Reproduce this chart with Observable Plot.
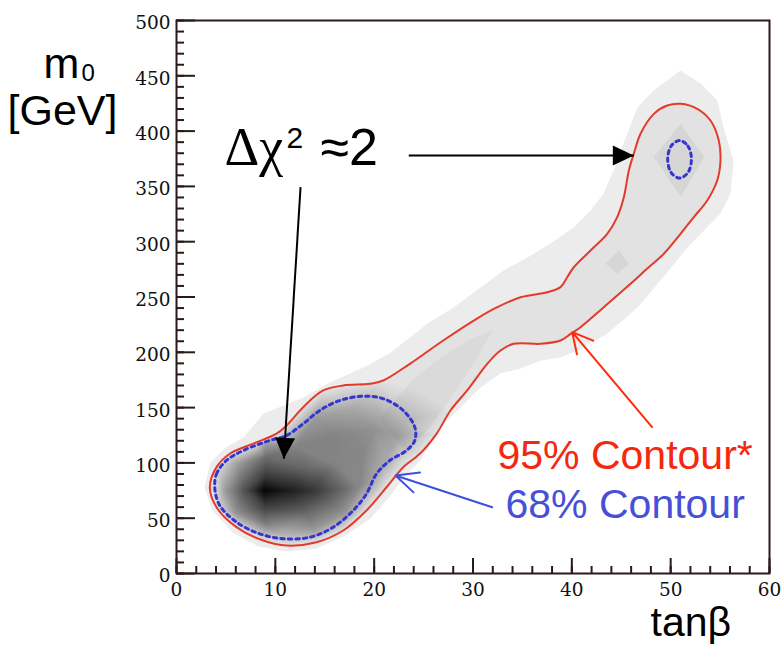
<!DOCTYPE html>
<html><head><meta charset="utf-8">
<script src="https://cdn.jsdelivr.net/npm/d3@7"></script>
<script src="https://cdn.jsdelivr.net/npm/@observablehq/plot@0.6"></script>
<style>
html,body{margin:0;padding:0;background:#fff;}
#chart{width:782px;height:646px;}
</style></head><body><div id="chart"></div>
<script>
// ---------- tick values ----------
const xTicks = [0, 10, 20, 30, 40, 50, 60];
const yTicks = [0, 50, 100, 150, 200, 250, 300, 350, 400, 450, 500];
const xMinorTicks = d3.range(0, 61, 2);
const yMinorTicks = d3.range(0, 501, 10);

// ---------- 95% contour (tanβ, m0) ----------
const c95X = [3.37,4.05,5.39,7.76,10.12,11.13,12.82,14.84,16.87,19.56,20.92,23.61,26.99,30.36,32.45,34.81,37.51,38.85,39.53,40.20,41.89,43.58,44.59,45.26,45.77,46.27,46.95,48.30,49.65,51.00,52.69,54.03,54.87,55.04,54.71,53.70,52.34,51.00,49.31,47.6,45.94,43.24,40.88,39.87,38.86,36.83,34.13,32.78,31.44,29.41,27.72,26.31,24.62,22.94,21.25,19.22,16.87,14.17,11.13,8.77,6.07,4.05];
const c95Y = [78.0,96.2,108.3,117.4,126.4,133.8,150.4,165.5,170.0,171.5,174.5,189.6,210.7,230.3,240.8,249.8,254.3,258.9,267.9,276.9,292.0,307.1,322.2,340.2,364.4,379.5,397.6,415.6,423.1,424.7,420.2,409.6,391.5,373.4,355.3,337.3,322.2,307.1,289.1,275.5,261.9,240.8,222.7,216.7,210.7,207.7,207.7,201.6,189.6,165.5,147.4,126.3,108.2,96.1,78.0,57.0,38.9,28.3,25.3,29.8,41.9,59.9];

// ---------- 68% contours ----------
const c68X = [3.88,4.05,5.06,6.75,9.44,11.13,12.82,14.50,16.52,18.89,20.92,22.94,24.11,24.11,23.27,21.58,20.24,19.22,17.88,15.86,13.49,10.80,8.43,6.07,4.38];
const c68Y = [76.6,90.1,102.2,111.2,120.3,124.8,135.4,147.4,156.4,160.3,158.0,147.4,132.3,120.3,111.2,102.2,90.1,72.1,57.0,41.9,32.8,31.4,35.9,46.4,61.5];
const c68TopX = [50.9,51.75,52.1,51.75,50.9,50.05,49.7,50.05];
const c68TopY = [391.5,386.5,374.5,362.5,357.5,362.5,374.5,386.5];

// ---------- shaded likelihood levels ----------
const bandX = [2.83,3.44,4.96,6.78,8.80,12.85,15.48,18.92,21.55,25.40,28.03,30.76,33.09,35.52,37.84,40.17,41.89,43.21,44.22,45.13,46.65,48.26,50.99,53.02,54.74,55.35,56.36,56.06,55.04,51.70,48.97,46.65,43.61,40.57,38.86,36.83,34.81,32.78,30.76,28.43,26.41,24.69,23.17,21.65,19.63,17.10,14.17,11.13,8.30,5.67,3.64];
const bandY = [77.8,100.4,113.9,122.9,144.7,159.1,172.7,186.3,198.9,226.0,240.5,258.6,274.0,285.7,298.4,312.8,328.2,343.6,364.4,387.0,421.3,436.7,454.8,443.0,427.7,403.3,373.4,343.6,325.5,294.8,264.9,240.5,217.0,201.6,195.3,192.6,185.4,180.8,168.2,147.4,129.3,102.2,88.6,70.5,49.7,34.4,22.6,19.9,24.4,37.1,57.0];
const wedgeX = [20.5,23.8,26.7,29.8,32.0,30.4,28.0,25.6,23.2];
const wedgeY = [140.0,174.0,195.0,212.0,220.0,195.0,162.0,132.0,110.0];
const peakTopX = [51.0,53.4,51.0,48.3];
const peakTopY = [406.6,376.5,340.4,376.5];
const peakMidX = [44.75,45.77,44.58,43.41];
const peakMidY = [292.0,280.0,271.0,280.0];

// core darkness samples (0 = none, 1 = black)
const coreX = [0,60,0,60,30,0,30,60,30,45,
  3.4,4.0,5.4,7.8,10.1,12.8,14.8,16.9,20.9,24.0,27.7,26.3,24.6,22.9,21.2,19.2,16.9,14.2,11.1,8.8,6.1,4.05,
  8.9,11.5,13.5,16.5,18.5,7.0,5.0,4.2,9.0,9.0,9.0,6.0,6.0,9.0,9.0,10.5,14.0,13.0,17.0,13.0,12.0,16.0,16.0,19.0,20.0,22.5,23.0,18.0,14.0,21.0,20.0];
const coreY = [0,0,500,500,0,250,500,250,250,350,
  78,96,108,117,126,150,165.5,170,174.5,168,147.4,126.3,108.2,96.1,78,57,38.9,28.3,25.3,29.8,41.9,59.9,
  75,75,75,76,78,75,75,77,90,105,117,100,55,60,45,35,40,55,55,95,115,100,125,110,130,125,137,150,140,100,88];
const coreDepth = [0,0,0,0,0,0,0,0,0,0,
  0,0,0,0,0,0,0,0,0,0,0,0,0,0,0,0,0,0,0,0,0,0,
  0.98,0.87,0.78,0.57,0.40,0.66,0.33,0.10,0.72,0.52,0.30,0.27,0.35,0.72,0.45,0.20,0.33,0.55,0.35,0.55,0.42,0.42,0.42,0.40,0.36,0.28,0.18,0.25,0.32,0.25,0.28];

// ---------- annotations ----------
const blackArrowX1 = [12.55, 23.5];
const blackArrowY1 = [349.3, 377.9];
const blackArrowX2 = [10.86, 46.27];
const blackArrowY2 = [103.7, 377.9];
const redArrow = {x1: 48.12, y1: 132.4, x2: 40.04, y2: 218.2};
const blueArrow = {x1: 31.94, y1: 59.9, x2: 22.16, y2: 88.6};

const pts = (xs, ys) => xs.map((x, i) => ({x, y: ys[i]}));
const c95 = pts(c95X, c95Y);
const c68 = pts(c68X, c68Y);
const c68Top = pts(c68TopX, c68TopY);
const band = pts(bandX, bandY);
const wedge = pts(wedgeX, wedgeY);
const peakTop = pts(peakTopX, peakTopY);
const peakMid = pts(peakMidX, peakMidY);
const core = coreX.map((x, i) => ({x, y: coreY[i], v: coreDepth[i]}));
const blackArrows = blackArrowX1.map((x1, i) => ({x1, y1: blackArrowY1[i], x2: blackArrowX2[i], y2: blackArrowY2[i]}));

const W = 782, H = 646, mL = 176, mR = 13, mT = 20, mB = 73;
const fw = W - mL - mR, fh = H - mT - mB;
const kx = fw / 60, ky = fh / 500;
const axisColor = "#2a1a1a";
const headSymbol = {draw(ctx) { ctx.moveTo(0, 0); ctx.lineTo(10, 21); ctx.lineTo(-10, 21); ctx.closePath(); }};

const chart = Plot.plot({
  width: W, height: H,
  marginLeft: mL, marginRight: mR, marginTop: mT, marginBottom: mB,
  x: {domain: [0, 60], label: null},
  y: {domain: [0, 500], label: null},
  opacity: {type: "linear", domain: [0, 1], range: [0, 1]},
  style: {background: "#fff", overflow: "visible"},
  marks: [
    Plot.line(band, {x: "x", y: "y", curve: "linear-closed", fill: "#ececec", stroke: "none"}),
    Plot.line(c95, {x: "x", y: "y", curve: "catmull-rom-closed", fill: "#e2e2e2", stroke: "none"}),
    Plot.line(wedge, {x: "x", y: "y", curve: "linear-closed", fill: "#dadada", stroke: "none"}),
    Plot.line(peakTop, {x: "x", y: "y", curve: "linear-closed", fill: "#d6d6d6", stroke: "none"}),
    Plot.line(peakMid, {x: "x", y: "y", curve: "linear-closed", fill: "#d6d6d6", stroke: "none"}),
    Plot.raster(core, {x: "x", y: "y", fill: "black", fillOpacity: "v", interpolate: "barycentric", x1: 0, x2: 60, y1: 0, y2: 500}),
    Plot.line(c95, {x: "x", y: "y", curve: "catmull-rom-closed", stroke: "#e33b2b", strokeWidth: 2}),
    Plot.line(c68, {x: "x", y: "y", curve: "catmull-rom-closed", stroke: "#3535d0", strokeWidth: 3, strokeDasharray: "3.5 4"}),
    Plot.line(c68Top, {x: "x", y: "y", curve: "catmull-rom-closed", stroke: "#3535d0", strokeWidth: 3, strokeDasharray: "3.5 4"}),
    // ticks (inward)
    Plot.ruleX(xTicks, {x: d => d, insetTop: fh - 15, stroke: axisColor, strokeWidth: 2}),
    Plot.ruleX(xMinorTicks, {x: d => d, insetTop: fh - 7, stroke: axisColor, strokeWidth: 2}),
    Plot.ruleY(yTicks, {y: d => d, insetRight: fw - 19, stroke: axisColor, strokeWidth: 2}),
    Plot.ruleY(yMinorTicks, {y: d => d, insetRight: fw - 8, stroke: axisColor, strokeWidth: 2}),
    Plot.frame({stroke: axisColor, strokeWidth: 2}),
    Plot.axisX(xTicks, {anchor: "bottom", tickSize: 0, tickPadding: 9, fontSize: 18.5, fontFamily: "DejaVu Serif", label: null, color: "#111"}),
    Plot.axisY(yTicks, {anchor: "left", tickSize: 0, tickPadding: 6, dy: 3, fontSize: 18.5, fontFamily: "DejaVu Serif", label: null, color: "#111"}),
    // axis titles
    Plot.text(["m"], {frameAnchor: "top-left", text: d => d, dx: -133, dy: 57, textAnchor: "start", lineAnchor: "bottom", fontSize: 43, fontFamily: "Liberation Sans", fill: "#000"}),
    Plot.text(["0"], {frameAnchor: "top-left", text: d => d, dx: -95, dy: 60, textAnchor: "start", lineAnchor: "bottom", fontSize: 24, fontFamily: "Liberation Sans", fill: "#000"}),
    Plot.text(["[GeV]"], {frameAnchor: "top-left", text: d => d, dx: -169, dy: 104, textAnchor: "start", lineAnchor: "bottom", fontSize: 43, fontFamily: "Liberation Sans", fill: "#000"}),
    Plot.text(["tanβ"], {frameAnchor: "bottom-left", text: d => d, dx: 474, dy: 62, textAnchor: "start", lineAnchor: "bottom", fontSize: 41, fontFamily: "Liberation Sans", fill: "#000"}),
    // Δχ² annotation
    Plot.text([{x: 4.86, y: 369.8, t: "Δχ"}], {x: "x", y: "y", text: "t", textAnchor: "start", lineAnchor: "bottom", fontSize: 54, fontFamily: "Liberation Serif", fill: "#000"}),
    Plot.text([{x: 11.13, y: 384.3, t: "2"}], {x: "x", y: "y", text: "t", textAnchor: "start", lineAnchor: "bottom", fontSize: 30, fontFamily: "Liberation Sans", fill: "#000"}),
    Plot.text([{x: 14.57, y: 368.9, t: "≈2"}], {x: "x", y: "y", text: "t", textAnchor: "start", lineAnchor: "bottom", fontSize: 52, fontFamily: "Liberation Sans", fill: "#000"}),
    Plot.link(blackArrows, {x1: "x1", y1: "y1", x2: "x2", y2: "y2", stroke: "#000", strokeWidth: 2}),
    Plot.dot(blackArrows, {x: "x2", y: "y2", symbol: headSymbol, fill: "#000", stroke: "none", r: 5,
      rotate: d => Math.atan2((d.x2 - d.x1) * kx, (d.y2 - d.y1) * ky) * 180 / Math.PI}),
    // contour labels
    Plot.arrow([redArrow], {x1: "x1", y1: "y1", x2: "x2", y2: "y2", stroke: "#ff2a0a", strokeWidth: 2, headLength: 17, headAngle: 56}),
    Plot.arrow([blueArrow], {x1: "x1", y1: "y1", x2: "x2", y2: "y2", stroke: "#3e4fe0", strokeWidth: 2, headLength: 18.5, headAngle: 50}),
    Plot.text([{x: 32.48, y: 94.9, t: "95% Contour*"}], {x: "x", y: "y", text: "t", textAnchor: "start", lineAnchor: "bottom", fontSize: 41, fontFamily: "Liberation Sans", fill: "#f5280f"}),
    Plot.text([{x: 33.29, y: 50.6, t: "68% Contour"}], {x: "x", y: "y", text: "t", textAnchor: "start", lineAnchor: "bottom", fontSize: 41, fontFamily: "Liberation Sans", fill: "#4650d7"})
  ]
});
document.getElementById("chart").appendChild(chart);
</script>
</body></html>
